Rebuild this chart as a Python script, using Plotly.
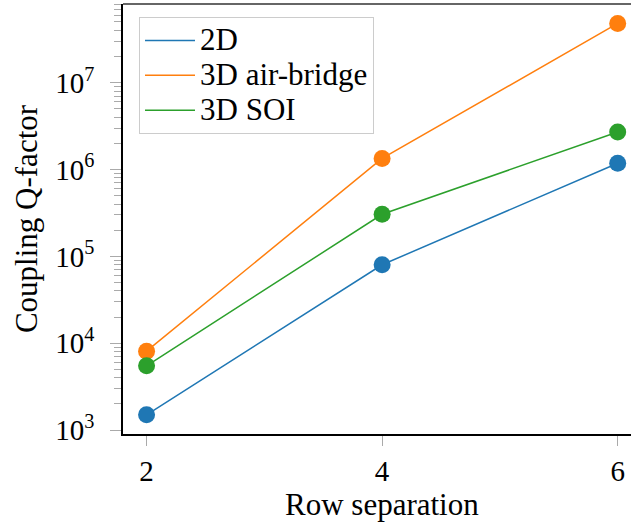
import plotly.graph_objects as go

# Row separation (x) and coupling Q-factor per structure type
row_separation = [2, 4, 6]
q_2d = [1.5e3, 8.0e4, 1.18e6]
q_air_bridge = [8.1e3, 1.34e6, 4.8e7]
q_soi = [5.5e3, 3.05e5, 2.7e6]

series_names = ["2D", "3D air-bridge", "3D SOI"]
series_colors = ["#1f77b4", "#ff7f0e", "#2ca02c"]

major_y = [1e3, 1e4, 1e5, 1e6, 1e7]
major_y_text = ["10<sup>3</sup>", "10<sup>4</sup>", "10<sup>5</sup>",
                "10<sup>6</sup>", "10<sup>7</sup>"]
minor_y = [m * 10 ** e for e in range(2, 8) for m in range(2, 10)]

FONT = "Liberation Serif"
LEGEND_TEXT = "<span style='font-size:31px'>{}</span>"

fig = go.Figure()
for name, color, vals in zip(series_names, series_colors,
                             [q_2d, q_air_bridge, q_soi]):
    # data line with markers
    fig.add_trace(go.Scatter(
        x=row_separation, y=vals, name=name, legendgroup=name,
        mode="lines+markers", showlegend=False,
        line=dict(color=color, width=1.5),
        marker=dict(color=color, size=17),
    ))
    # legend entry shows the line style only
    fig.add_trace(go.Scatter(
        x=[None], y=[None], name=LEGEND_TEXT.format(name), legendgroup=name,
        mode="lines", line=dict(color=color, width=1.5),
        hoverinfo="skip",
    ))

fig.update_layout(
    width=631, height=524,
    margin=dict(l=123, r=0, t=4, b=90),
    paper_bgcolor="white", plot_bgcolor="white",
    font=dict(family=FONT, size=28, color="black"),
    showlegend=True,
    legend=dict(
        x=0.0315, y=0.97, xanchor="left", yanchor="top",
        bgcolor="white", bordercolor="#cccccc", borderwidth=1,
        font=dict(family=FONT, size=24.6, color="black"),
        itemwidth=50, tracegroupgap=0,
        entrywidth=191, entrywidthmode="pixels",
    ),
    xaxis=dict(
        range=[1.8, 6.113], tickvals=row_separation,
        ticks="outside", ticklen=10, tickwidth=1, tickcolor="#aaaaaa",
        showline=True, linecolor="black", linewidth=1.5,
        showgrid=False, zeroline=False,
        tickfont=dict(family=FONT, size=29),
        ticklabelstandoff=0,
    ),
    yaxis=dict(
        type="log", range=[2.955, 7.905],
        tickvals=major_y, ticktext=major_y_text,
        ticks="outside", ticklen=11, tickwidth=1, tickcolor="#aaaaaa",
        minor=dict(tickvals=minor_y, ticks="outside", ticklen=7,
                   tickwidth=1, tickcolor="#aaaaaa", showgrid=False),
        showline=True, linecolor="black", linewidth=1.5,
        showgrid=False, zeroline=False,
        tickfont=dict(family=FONT, size=29),
        ticklabelstandoff=10,
        title=dict(text="Coupling Q-factor", standoff=8,
                   font=dict(family=FONT, size=31)),
    ),
    annotations=[dict(
        text="Row separation", xref="paper", yref="paper",
        x=0.51, y=0, yshift=-51, xanchor="center", yanchor="top",
        showarrow=False, font=dict(family=FONT, size=31, color="black"),
    )],
    shapes=[dict(
        type="line", xref="paper", yref="paper", x0=0, x1=1, y0=1, y1=1,
        line=dict(color="#666666", width=2),
    )],
)

fig.write_html("out.html")
